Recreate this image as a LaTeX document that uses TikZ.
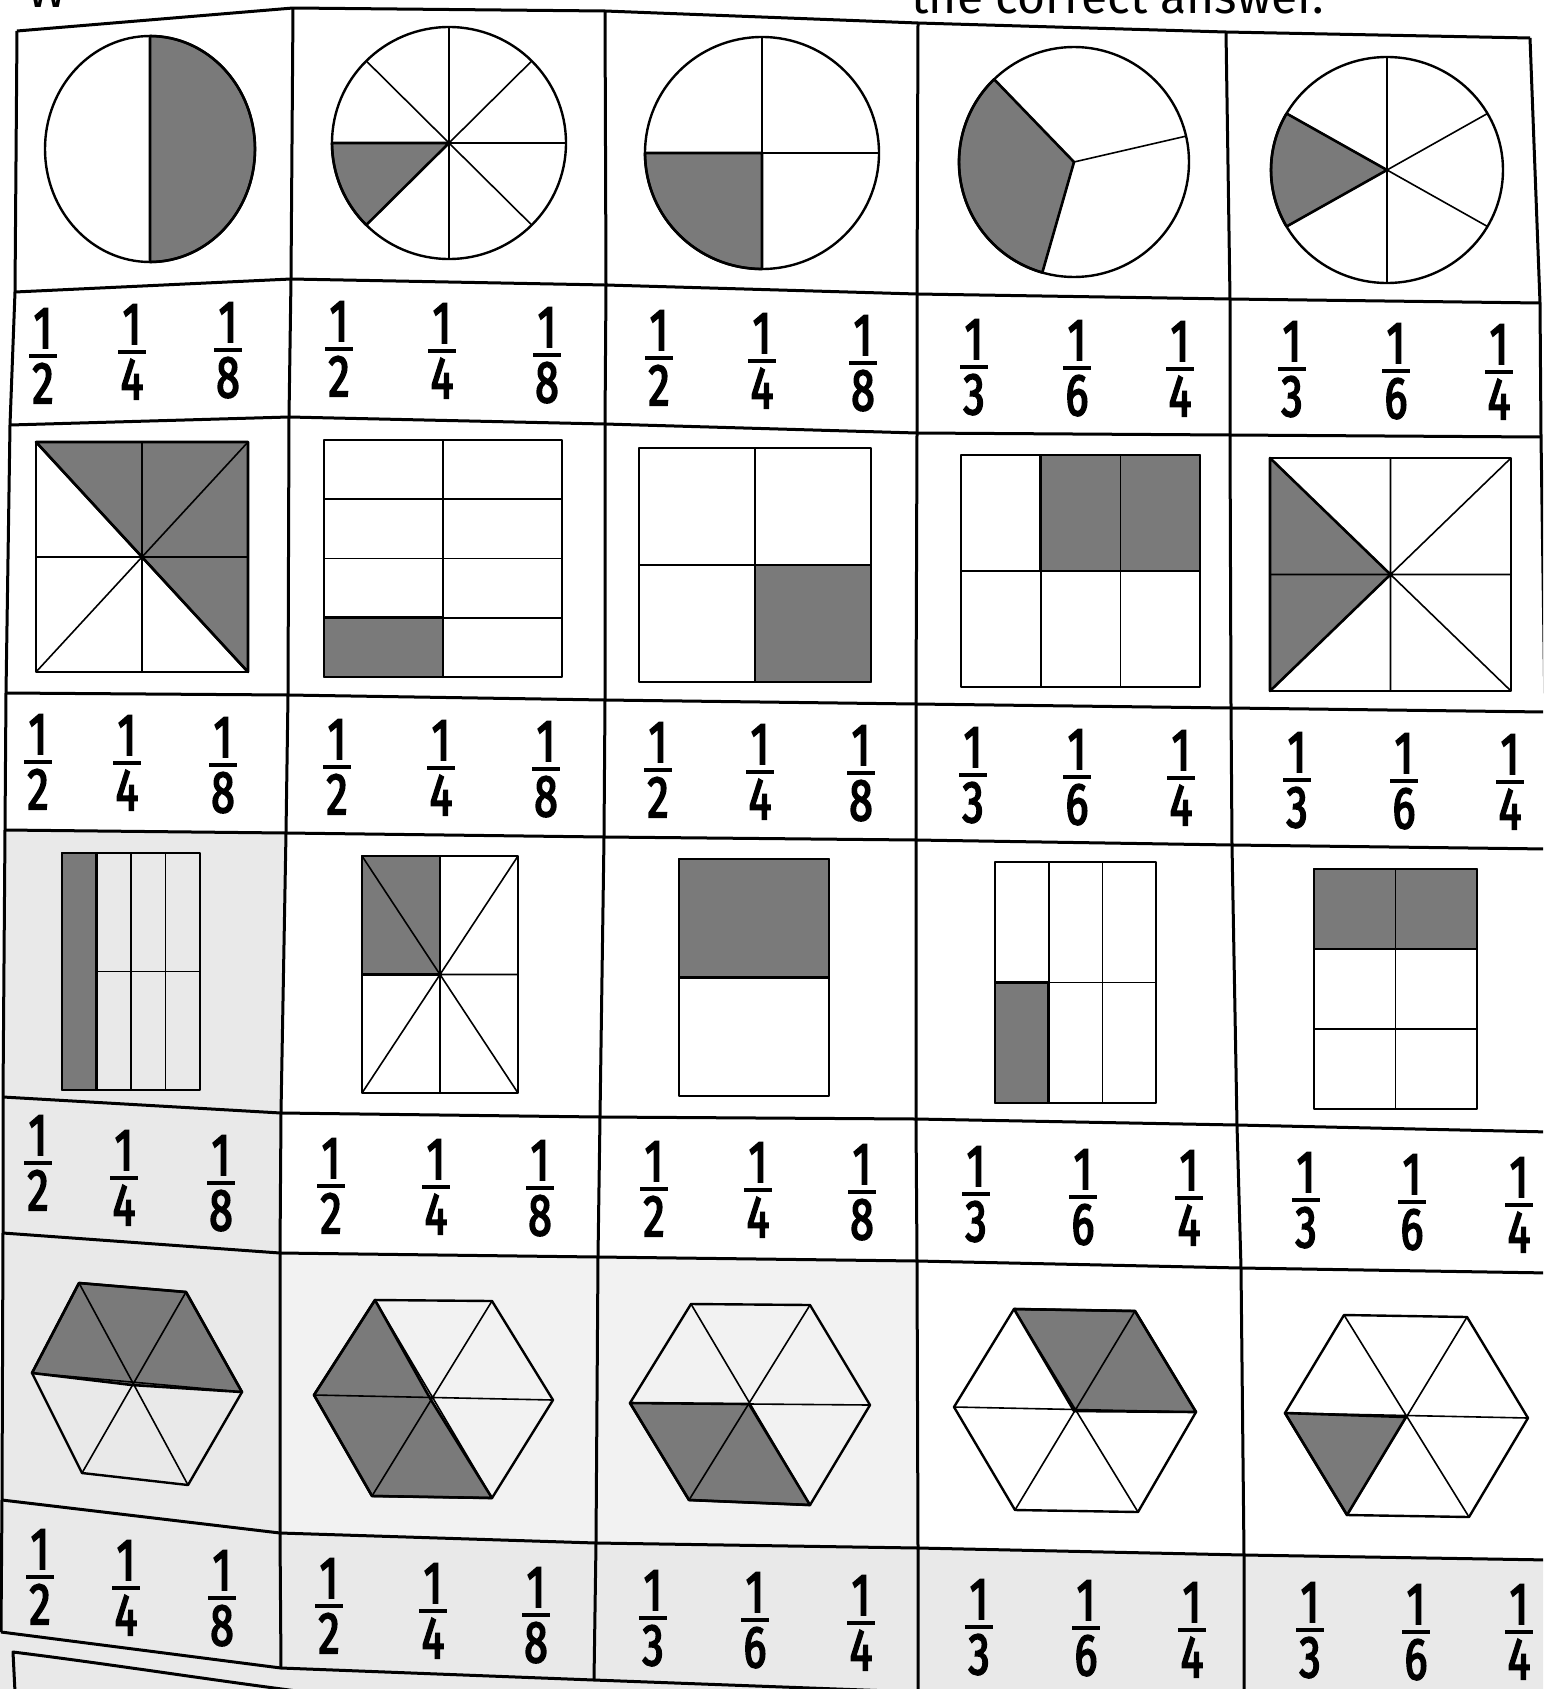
\documentclass[tikz,border=0pt]{standalone}
\usepackage{fontspec}
\setmainfont{Fira Sans}
\newfontfamily\fracfont[FakeStretch=0.72,FakeBold=3]{Fira Sans}
\definecolor{shadegray}{RGB}{122,122,122}
\definecolor{tintgray}{RGB}{233,233,233}
\definecolor{tintlight}{RGB}{242,242,242}
\tikzset{
  gridline/.style={line width=3pt, line join=round},
  outl/.style={line width=2.4pt, line join=round},
  inner/.style={line width=1.6pt},
  shaded/.style={fill=shadegray, draw=black, line width=2.6pt, line join=round},
  numtxt/.style={inner sep=0pt, font=\fracfont\fontsize{59}{60}\selectfont},
  fbar/.style={line width=4pt},
  pics/frac/.style={code={
    \node[numtxt,anchor=base] (-n) at (0,-8) {1};
    \draw[fbar] (-14,0) -- (14,0);
    \node[numtxt,anchor=north] (-d) at (0,7) {#1};
  }}
}
\begin{document}
\begin{tikzpicture}[x=1pt,y=-1pt]
\useasboundingbox (0,0) rectangle (1543,1689);
\clip (0,0) rectangle (1543,1689);
\fill[white] (0,0) rectangle (1543,1689);

% grid intersections g<row>-<col>
\foreach \j/\i/\xx/\yy in {
  0/0/17/31, 0/1/293/8, 0/2/605/11, 0/3/918/23, 0/4/1226/32, 0/5/1530/38,
  1/0/15/292, 1/1/291/279, 1/2/606/285, 1/3/917/294, 1/4/1230/299, 1/5/1540/303,
  2/0/10/425, 2/1/289/417, 2/2/605/424, 2/3/917/433, 2/4/1230/435, 2/5/1541/437,
  3/0/6/693, 3/1/288/695, 3/2/605/700, 3/3/916/704, 3/4/1231/708, 3/5/1545/712,
  4/0/5/830, 4/1/286/833, 4/2/604/837, 4/3/916/840, 4/4/1232/845, 4/5/1548/849,
  5/0/3/1097, 5/1/281/1113, 5/2/600/1117, 5/3/916/1119, 5/4/1237/1125, 5/5/1550/1132,
  6/0/3/1233, 6/1/280/1253, 6/2/598/1257, 6/3/917/1261, 6/4/1241/1268, 6/5/1550/1273,
  7/0/2/1500, 7/1/280/1533, 7/2/596/1543, 7/3/918/1548, 7/4/1244/1555, 7/5/1550/1560,
  8/0/1/1632, 8/1/281/1668, 8/2/594/1680, 8/3/918/1692, 8/4/1244/1700, 8/5/1550/1705}{
  \coordinate (g\j-\i) at (\xx,\yy);
}

% light photo tint
\fill[tintgray] (g4-0) -- (g4-1) -- (g6-1) -- (g6-0) -- cycle;
\fill[tintlight] (g6-0) -- (g6-1) -- (g6-2) -- (g6-3) -- (g7-3) -- (g7-2) -- (g7-1) -- (g7-0) -- cycle;
\fill[tintgray] (g6-0) -- (g6-1) -- (g7-1) -- (g7-0) -- cycle;
\fill[tintgray] (g7-0) -- (g7-1) -- (g7-2) -- (g7-3) -- (g7-4) -- (g7-5) -- (g8-5) -- (g8-4) -- (g8-3) -- (g8-2) -- (g8-1) -- (g8-0) -- cycle;
\fill[tintgray] (0,1632) -- (g8-0) -- (g8-1) -- (g8-2) -- (g8-3) -- (1543,1689) -- (0,1689) -- cycle;

% grid lines
\foreach \j in {0,...,8}{
  \draw[gridline] (g\j-0) -- (g\j-1) -- (g\j-2) -- (g\j-3) -- (g\j-4) -- (g\j-5);
}
\foreach \i in {0,...,5}{
  \draw[gridline] (g0-\i) -- (g1-\i) -- (g2-\i) -- (g3-\i) -- (g4-\i) -- (g5-\i) -- (g6-\i) -- (g7-\i) -- (g8-\i);
}
% partial box at the bottom
\coordinate (bx) at (13,1652);
\draw[gridline] (15,1692) -- (bx) .. controls (110,1664) and (210,1680) .. (320,1694);

% header text (cut off by the page edge, as in the reference)
\node[anchor=base west, inner sep=0pt, font=\fontsize{48}{50}\selectfont] (hw) at (27,8) {W};
\node[anchor=base east, inner sep=0pt, font=\fontsize{48}{50}\selectfont] (ht) at (1324,13) {the correct answer.};

% ---------- row 1: circles ----------
\coordinate (c1) at (150,149);
\fill[shaded] (c1) -- +(-90:105 and 113) arc[start angle=-90,end angle=90,x radius=105,y radius=113] -- cycle;
\draw[outl] (c1) ellipse[x radius=105,y radius=113];
\draw[inner] (c1) +(-90:105 and 113) -- +(90:105 and 113);
\coordinate (c2) at (449,143);
\fill[shaded] (c2) -- +(135:117 and 116) arc[start angle=135,end angle=180,x radius=117,y radius=116] -- cycle;
\foreach \a in {0,45,90,135}{\draw[inner] (c2) +(\a:117 and 116) -- +(\a+180:117 and 116);}
\draw[outl] (c2) ellipse[x radius=117,y radius=116];
\coordinate (c3) at (762,153);
\fill[shaded] (c3) -- +(90:117 and 116) arc[start angle=90,end angle=180,x radius=117,y radius=116] -- cycle;
\foreach \a in {0,90}{\draw[inner] (c3) +(\a:117 and 116) -- +(\a+180:117 and 116);}
\draw[outl] (c3) ellipse[x radius=117,y radius=116];
\coordinate (c4) at (1074,162);
\fill[shaded] (c4) -- +(106:115 and 115) arc[start angle=106,end angle=226,x radius=115,y radius=115] -- cycle;
\foreach \a in {106,226,347}{\draw[inner] (c4) -- +(\a:115 and 115);}
\draw[outl] (c4) ellipse[x radius=115,y radius=115];
\coordinate (c5) at (1387,170);
\fill[shaded] (c5) -- +(150:116 and 113) arc[start angle=150,end angle=210,x radius=116,y radius=113] -- cycle;
\foreach \a in {-90,-30,30}{\draw[inner] (c5) +(\a:116 and 113) -- +(\a+180:116 and 113);}
\draw[outl] (c5) ellipse[x radius=116,y radius=113];

% ---------- row 2: squares ----------
\fill[shaded] (36,442) -- (248,442) -- (248,672) -- cycle;
\draw[inner] (142,442) -- (142,672) (36,557) -- (248,557) (248,442) -- (36,672);
\draw[outl] (36,442) -- (248,672);
\draw[outl] (36,442) rectangle (248,672);
\fill[shaded] (324,617.75) rectangle (443,677);
\draw[inner] (443,440) -- (443,677) (324,499.25) -- (562,499.25) (324,558.5) -- (562,558.5) (324,617.75) -- (562,617.75);
\draw[outl] (324,440) rectangle (562,677);
\fill[shaded] (755,565) rectangle (871,682);
\draw[inner] (755,448) -- (755,682) (639,565) -- (871,565);
\draw[outl] (639,448) rectangle (871,682);
\fill[shaded] (1040.7,455) rectangle (1200,571);
\draw[inner] (1040.7,455) -- (1040.7,687) (1120.3,455) -- (1120.3,687) (961,571) -- (1200,571);
\draw[outl] (961,455) rectangle (1200,687);
\fill[shaded] (1270,458) -- (1390.5,574.5) -- (1270,691) -- cycle;
\draw[inner] (1390.5,458) -- (1390.5,691) (1270,574.5) -- (1511,574.5) (1270,458) -- (1511,691) (1511,458) -- (1270,691);
\draw[outl] (1270,458) rectangle (1511,691);

% ---------- row 3: rectangles ----------
\fill[shaded] (62,853) rectangle (96.5,1090);
\draw[inner] (131,853) -- (131,1090) (165.5,853) -- (165.5,1090) (96.5,971.5) -- (200,971.5);
\draw[outl] (62,853) rectangle (200,1090);
\fill[shaded] (362,856) rectangle (440,974.5);
\draw[inner] (440,856) -- (440,1093) (362,974.5) -- (518,974.5) (362,856) -- (518,1093) (518,856) -- (362,1093);
\draw[outl] (362,856) rectangle (518,1093);
\fill[shaded] (679,859) rectangle (829,977.5);
\draw[outl] (679,859) rectangle (829,1096);
\fill[shaded] (995,982.5) rectangle (1048.7,1103);
\draw[inner] (1048.7,862) -- (1048.7,1103) (1102.3,862) -- (1102.3,1103) (995,982.5) -- (1156,982.5);
\draw[outl] (995,862) rectangle (1156,1103);
\fill[shaded] (1314,869) rectangle (1477,949);
\draw[inner] (1395.5,869) -- (1395.5,1109) (1314,1029) -- (1477,1029);
\draw[outl] (1314,869) rectangle (1477,1109);

% ---------- row 4: hexagons ----------
\fill[shaded] (32,1373) -- (79,1283) -- (186,1292) -- (242,1392) -- (132,1385) -- cycle;
\draw[inner] (79,1283) -- (188,1485) (186,1292) -- (82,1473) (32,1373) -- (242,1392);
\draw[outl] (79,1283) -- (186,1292) -- (242,1392) -- (188,1485) -- (82,1473) -- (32,1373) -- cycle;
\fill[shaded] (375,1300) -- (314,1395) -- (372,1496) -- (492,1498) -- (431,1400) -- cycle;
\draw[inner] (375,1300) -- (492,1498) (492,1301) -- (372,1496) (314,1395) -- (553,1400);
\draw[outl] (375,1300) -- (492,1301) -- (553,1400) -- (492,1498) -- (372,1496) -- (314,1395) -- cycle;
\fill[shaded] (630,1403) -- (749,1404) -- (810,1505) -- (689,1500) -- cycle;
\draw[inner] (691,1304) -- (810,1505) (810,1305) -- (689,1500) (630,1403) -- (870,1405);
\draw[outl] (691,1304) -- (810,1305) -- (870,1405) -- (810,1505) -- (689,1500) -- (630,1403) -- cycle;
\fill[shaded] (1014,1309) -- (1135,1311) -- (1196,1412) -- (1074,1411) -- cycle;
\draw[inner] (1014,1309) -- (1138,1512) (1135,1311) -- (1015,1510) (954,1407) -- (1196,1412);
\draw[outl] (1014,1309) -- (1135,1311) -- (1196,1412) -- (1138,1512) -- (1015,1510) -- (954,1407) -- cycle;
\fill[shaded] (1285,1413) -- (1406,1417) -- (1347,1515) -- cycle;
\draw[inner] (1344,1315) -- (1469,1517) (1467,1317) -- (1347,1515) (1285,1413) -- (1528,1418);
\draw[outl] (1344,1315) -- (1467,1317) -- (1528,1418) -- (1469,1517) -- (1347,1515) -- (1285,1413) -- cycle;

% ---------- fractions ----------
\foreach \xx/\yy/\d [count=\k] in {
  43/356/2,132/352/4,228/350/8,339/349/2,442/351/4,547/355/8,
  659/358/2,762/361/4,863/363/8,974/367/3,1077/368/6,1180/369/4,
  1292/369/3,1396/371/6,1499/372/4}{\pic (fa\k) at (\xx,\yy) {frac=\d};}
\foreach \xx/\yy/\d [count=\k] in {
  38/762/2,127/763/4,223/765/8,337/767/2,441/768/4,546/769/8,
  658/770/2,760/772/4,861/773/8,973/775/3,1077/777/6,1181/778/4,
  1297/780/3,1404/781/6,1510/782/4}{\pic (fb\k) at (\xx,\yy) {frac=\d};}
\foreach \xx/\yy/\d [count=\k] in {
  38/1163/2,124/1178/4,221/1183/8,331/1186/2,436/1187/4,540/1188/8,
  654/1189/2,758/1190/4,862/1192/8,976/1194/3,1083/1197/6,1189/1198/4,
  1306/1200/3,1412/1202/6,1519/1205/4}{\pic (fc\k) at (\xx,\yy) {frac=\d};}
\foreach \xx/\yy/\d [count=\k] in {
  40/1577/2,126/1588/4,222/1598/8,329/1606/2,433/1611/4,536/1615/8,
  653/1618/3,755/1620/6,861/1623/4,979/1627/3,1086/1628/6,1192/1630/4,
  1310/1630/3,1416/1632/6,1519/1632/4}{\pic (fd\k) at (\xx,\yy) {frac=\d};}
\end{tikzpicture}
\end{document}
